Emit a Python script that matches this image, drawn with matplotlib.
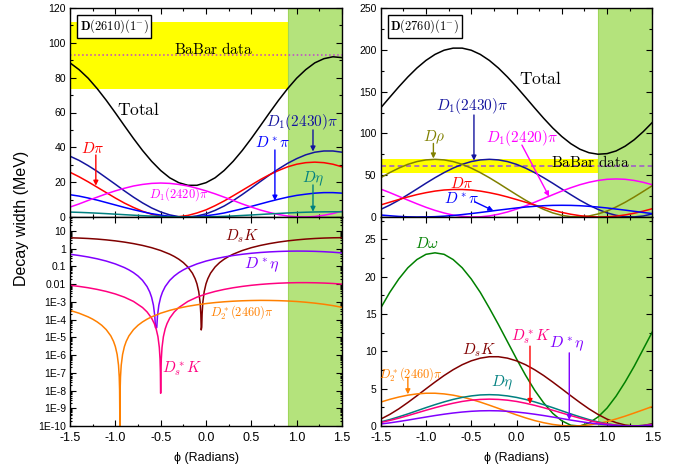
import matplotlib
matplotlib.use('Agg')
import matplotlib.pyplot as plt
from matplotlib.ticker import MultipleLocator, FixedLocator, FuncFormatter, LogLocator, NullFormatter

plt.rcParams['font.family'] = ['Liberation Sans', 'DejaVu Sans']
plt.rcParams['mathtext.fontset'] = 'cm'

# ---------------- data ----------------
phi = [-1.5, -1.4, -1.3, -1.2, -1.1, -1.0, -0.9, -0.8, -0.7, -0.6, -0.5, -0.4, -0.3, -0.2, -0.1,
       0.0, 0.1, 0.2, 0.3, 0.4, 0.5, 0.6, 0.7, 0.8, 0.9, 1.0, 1.1, 1.2, 1.3, 1.4, 1.5]

# D(2610)(1-) main channels
a_total = [88.5, 84.6, 79.7, 73.7, 67.0, 59.8, 52.4, 45.1, 38.2, 32.0, 26.7, 22.5, 19.7, 18.2, 18.2,
           19.7, 22.5, 26.7, 32.0, 38.2, 45.1, 52.4, 59.8, 67.0, 73.7, 79.7, 84.6, 88.5, 90.9, 92.0, 91.5]
a_d1_2430 = [34.9, 32.5, 29.5, 26.2, 22.5, 18.8, 15.0, 11.4, 8.1, 5.2, 2.9, 1.2, 0.2, 0.0, 0.6,
             1.8, 3.8, 6.3, 9.4, 12.9, 16.6, 20.4, 24.1, 27.6, 30.8, 33.5, 35.7, 37.2, 37.9, 37.9, 37.2]
a_dpi = [25.7, 23.1, 20.2, 17.1, 14.0, 10.9, 8.0, 5.5, 3.3, 1.6, 0.5, 0.0, 0.2, 0.9, 2.3,
         4.1, 6.5, 9.2, 12.2, 15.3, 18.4, 21.5, 24.3, 26.7, 28.8, 30.3, 31.2, 31.5, 31.2, 30.3, 28.8]
a_dstarpi = [12.8, 12.0, 10.9, 9.7, 8.3, 6.9, 5.5, 4.2, 3.0, 1.9, 1.1, 0.4, 0.1, 0.0, 0.2,
             0.7, 1.4, 2.3, 3.5, 4.7, 6.1, 7.5, 8.9, 10.2, 11.4, 12.4, 13.1, 13.7, 14.0, 14.0, 13.7]
a_d1_2420 = [5.7, 7.5, 9.5, 11.4, 13.3, 15.0, 16.5, 17.8, 18.7, 19.3, 19.5, 19.3, 18.7, 17.8, 16.5,
              15.0, 13.3, 11.4, 9.5, 7.5, 5.7, 4.0, 2.6, 1.4, 0.6, 0.1, 0.0, 0.3, 1.0, 2.0, 3.4]
a_deta = [2.83, 2.66, 2.45, 2.20, 1.93, 1.63, 1.33, 1.04, 0.76, 0.52, 0.31, 0.15, 0.05, 0.00, 0.02,
          0.09, 0.21, 0.39, 0.62, 0.88, 1.16, 1.46, 1.76, 2.04, 2.31, 2.55, 2.74, 2.88, 2.97, 3.00, 2.97]

# D(2610)(1-) small channels (log panel)
dsk_phi = [-1.5, -1.4, -1.3, -1.2, -1.1, -1.0, -0.9, -0.8, -0.7, -0.6, -0.5, -0.4, -0.35, -0.3, -0.25,
           -0.2, -0.15, -0.12, -0.1, -0.08, -0.065, -0.057, -0.0525, -0.047, -0.043, -0.035, -0.02,
           0.0, 0.02, 0.05, 0.1, 0.15, 0.2, 0.25, 0.3, 0.4, 0.5, 0.6, 0.7, 0.8, 0.9, 1.0, 1.1, 1.2,
           1.3, 1.4, 1.5]
dsk_val = [4.04, 3.90, 3.69, 3.42, 3.08, 2.71, 2.31, 1.90, 1.50, 1.12, 0.776, 0.482, 0.358, 0.251,
           0.162, 0.0914, 0.0409, 0.0200, 0.0103, 3.69e-3, 9.2e-4, 2.0e-4, 2.6e-5, 3.7e-5, 2.0e-4,
           9.2e-4, 3.69e-3, 0.0103, 0.0200, 0.0409, 0.0914, 0.162, 0.251, 0.358, 0.482, 0.776, 1.12,
           1.50, 1.90, 2.31, 2.71, 3.08, 3.42, 3.69, 3.90, 4.04, 4.10]
dseta_phi = [-1.5, -1.4, -1.3, -1.2, -1.1, -1.0, -0.9, -0.85, -0.8, -0.75, -0.7, -0.65, -0.62, -0.6,
             -0.58, -0.565, -0.557, -0.543, -0.535, -0.52, -0.5, -0.48, -0.45, -0.4, -0.35, -0.3,
             -0.25, -0.2, -0.1, 0.0, 0.1, 0.2, 0.3, 0.4, 0.5, 0.6, 0.7, 0.8, 0.9, 1.0, 1.1, 1.2, 1.3,
             1.4, 1.5]
dseta_val = [0.476, 0.406, 0.335, 0.264, 0.197, 0.136, 0.0847, 0.0629, 0.0441, 0.0284, 0.0161,
             0.00718, 0.00352, 0.0018, 6.5e-4, 1.62e-4, 3.5e-5, 3.5e-5, 1.62e-4, 6.5e-4, 0.0018,
             0.00352, 0.00718, 0.0161, 0.0284, 0.0441, 0.0629, 0.0847, 0.136, 0.197, 0.264, 0.335,
             0.406, 0.476, 0.542, 0.600, 0.648, 0.685, 0.710, 0.720, 0.715, 0.697, 0.665, 0.621, 0.567]
dssk_phi = [-1.5, -1.4, -1.3, -1.2, -1.1, -1.0, -0.9, -0.8, -0.7, -0.65, -0.6, -0.57, -0.55, -0.53,
            -0.515, -0.507, -0.503, -0.5008, -0.4992, -0.497, -0.493, -0.485, -0.47, -0.45, -0.43,
            -0.4, -0.35, -0.3, -0.2, -0.1, 0.0, 0.1, 0.2, 0.3, 0.4, 0.5, 0.6, 0.7, 0.8, 0.9, 1.0,
            1.1, 1.2, 1.3, 1.4, 1.5]
dssk_val = [8.50e-3, 7.36e-3, 6.18e-3, 4.98e-3, 3.83e-3, 2.76e-3, 1.82e-3, 1.05e-3, 4.74e-4, 2.68e-4,
            1.2e-4, 5.87e-5, 3.0e-5, 1.08e-5, 2.7e-6, 5.9e-7, 1.08e-7, 7e-9, 7e-9, 1.08e-7, 5.9e-7,
            2.7e-6, 1.08e-5, 3.0e-5, 5.87e-5, 1.2e-4, 2.68e-4, 4.74e-4, 1.05e-3, 1.82e-3, 2.76e-3,
            3.83e-3, 4.98e-3, 6.18e-3, 7.36e-3, 8.50e-3, 9.53e-3, 1.042e-2, 1.114e-2, 1.165e-2,
            1.194e-2, 1.199e-2, 1.180e-2, 1.138e-2, 1.075e-2, 9.92e-3]
d2pi_phi = [-1.5, -1.4, -1.3, -1.25, -1.2, -1.15, -1.1, -1.05, -1.02, -1.0, -0.98, -0.965, -0.957,
            -0.953, -0.9505, -0.9501, -0.9499, -0.9495, -0.947, -0.943, -0.935, -0.92, -0.9, -0.88,
            -0.85, -0.8, -0.75, -0.7, -0.65, -0.6, -0.5, -0.4, -0.3, -0.2, -0.1, 0.0, 0.1, 0.2, 0.3,
            0.4, 0.5, 0.6, 0.7, 0.8, 0.9, 1.0, 1.1, 1.2, 1.3, 1.4, 1.5]
d2pi_val = [3.28e-4, 2.27e-4, 1.41e-4, 1.05e-4, 7.34e-5, 4.74e-5, 2.68e-5, 1.2e-5, 5.87e-6, 3.0e-6,
            1.08e-6, 2.7e-7, 5.9e-8, 1.08e-8, 3e-10, 1.2e-11, 1.2e-11, 3e-10, 1.08e-8, 5.9e-8,
            2.7e-7, 1.08e-6, 3.0e-6, 5.87e-6, 1.2e-5, 2.68e-5, 4.74e-5, 7.34e-5, 1.05e-4, 1.41e-4,
            2.27e-4, 3.28e-4, 4.40e-4, 5.58e-4, 6.77e-4, 7.94e-4, 9.03e-4, 1.00e-3, 1.08e-3, 1.14e-3,
            1.18e-3, 1.20e-3, 1.19e-3, 1.16e-3, 1.11e-3, 1.04e-3, 9.45e-4, 8.40e-4, 7.26e-4,
            6.07e-4, 4.88e-4]

# D(2760)(1-) main channels
b_total = [130.5, 143.2, 155.7, 167.5, 178.2, 187.3, 194.5, 199.5, 202.0, 202.0, 199.5, 194.5, 187.3,
           178.2, 167.5, 155.7, 143.2, 130.5, 118.1, 106.5, 96.3, 87.7, 81.1, 76.9, 75.1, 75.8, 79.0,
           84.7, 92.4, 102.1, 113.1]
b_d1_2430 = [9.1, 14.2, 20.1, 26.7, 33.5, 40.4, 47.0, 53.1, 58.5, 63.0, 66.3, 68.3, 69.0, 68.3, 66.3,
             63.0, 58.5, 53.1, 47.0, 40.4, 33.5, 26.7, 20.1, 14.2, 9.1, 4.9, 2.0, 0.4, 0.1, 1.2, 3.6]
b_drho = [47.0, 53.1, 58.5, 63.0, 66.3, 68.3, 69.0, 68.3, 66.3, 63.0, 58.5, 53.1, 47.0, 40.4, 33.5,
          26.7, 20.1, 14.2, 9.1, 4.9, 2.0, 0.4, 0.1, 1.2, 3.6, 7.2, 12.0, 17.6, 23.9, 30.6, 37.5]
b_d1_2420 = [33.4, 29.2, 24.7, 20.2, 15.8, 11.6, 7.9, 4.8, 2.3, 0.8, 0.0, 0.2, 1.3, 3.3, 6.0,
             9.4, 13.3, 17.6, 22.1, 26.6, 31.0, 35.0, 38.6, 41.5, 43.7, 45.1, 45.5, 45.1, 43.7, 41.5, 38.6]
b_dpi = [14.4, 17.7, 20.9, 24.0, 26.8, 29.1, 31.0, 32.3, 32.9, 32.9, 32.3, 31.0, 29.1, 26.8, 24.0,
         20.9, 17.7, 14.4, 11.2, 8.2, 5.5, 3.3, 1.6, 0.5, 0.0, 0.2, 1.0, 2.5, 4.5, 7.0, 9.9]
b_dstarpi = [2.4, 1.5, 0.7, 0.2, 0.0, 0.1, 0.4, 1.0, 1.8, 2.9, 4.1, 5.4, 6.8, 8.2, 9.5,
             10.8, 11.9, 12.8, 13.5, 13.9, 14.0, 13.9, 13.5, 12.8, 11.9, 10.8, 9.5, 8.2, 6.8, 5.4, 4.1]

# D(2760)(1-) small channels
c_domega = [15.8, 17.9, 19.7, 21.2, 22.3, 23.0, 23.2, 23.0, 22.3, 21.2, 19.7, 17.9, 15.8, 13.6, 11.3,
            9.0, 6.8, 4.8, 3.1, 1.7, 0.7, 0.1, 0.0, 0.4, 1.2, 2.4, 4.0, 5.9, 8.0, 10.3, 12.6]
c_dsk = [0.92, 1.55, 2.30, 3.15, 4.05, 4.98, 5.89, 6.76, 7.54, 8.21, 8.73, 9.09, 9.28, 9.28, 9.09,
         8.73, 8.21, 7.54, 6.76, 5.89, 4.98, 4.05, 3.15, 2.30, 1.55, 0.92, 0.45, 0.13, 0.00, 0.06, 0.30]
c_d2pi = [3.20, 3.57, 3.88, 4.13, 4.30, 4.39, 4.39, 4.30, 4.13, 3.88, 3.57, 3.20, 2.79, 2.36, 1.92,
          1.49, 1.09, 0.73, 0.44, 0.21, 0.06, 0.00, 0.03, 0.14, 0.33, 0.60, 0.94, 1.32, 1.74, 2.17, 2.61]
c_deta = [0.55, 0.86, 1.23, 1.62, 2.04, 2.46, 2.86, 3.23, 3.56, 3.83, 4.03, 4.16, 4.20, 4.16, 4.03,
          3.83, 3.56, 3.23, 2.86, 2.46, 2.04, 1.62, 1.23, 0.86, 0.55, 0.30, 0.12, 0.02, 0.00, 0.07, 0.22]
c_dsstark = [0.47, 0.74, 1.05, 1.39, 1.75, 2.11, 2.45, 2.77, 3.05, 3.29, 3.46, 3.56, 3.60, 3.56, 3.46,
             3.29, 3.05, 2.77, 2.45, 2.11, 1.75, 1.39, 1.05, 0.74, 0.47, 0.26, 0.10, 0.02, 0.00, 0.06, 0.19]
c_dstareta = [0.27, 0.42, 0.60, 0.79, 1.00, 1.20, 1.40, 1.58, 1.74, 1.87, 1.97, 2.03, 2.05, 2.03, 1.97,
              1.87, 1.74, 1.58, 1.40, 1.20, 1.00, 0.79, 0.60, 0.42, 0.27, 0.15, 0.06, 0.01, 0.00, 0.03, 0.11]

babar_2610 = (93.0, 73.5, 112.0)
babar_2760 = (60.9, 52.2, 69.6)
green_band = (0.9, 1.5)

# ---------------- colours ----------------
NAVY = '#14149e'
BLUE = '#0000ff'
RED = '#ff0000'
MAG = '#ff00ff'
TEAL = '#008080'
OLIVE = '#808000'
MAROON = '#800000'
VIOLET = '#8000ff'
PINK = '#ff0080'
ORANGE = '#ff8000'
GREEN = '#008000'
BAND_G = '#b4e37c'
BAND_Y = '#ffff00'

W, H = 683, 475
fig = plt.figure(figsize=(W / 100, H / 100), dpi=100)


def ax_at(x0, y0, x1, y1):
    return fig.add_axes([x0 / W, 1 - y1 / H, (x1 - x0) / W, (y1 - y0) / H])


ax1 = ax_at(70, 8, 342, 217)
ax2 = ax_at(70, 217, 342, 426)
ax3 = ax_at(380.7, 8, 652.3, 217)
ax4 = ax_at(380.7, 217, 652.3, 426)

fmt_x = FuncFormatter(lambda v, p: f'{v:.1f}')


def style(ax, xlab):
    ax.set_xlim(-1.5, 1.5)
    ax.xaxis.set_major_locator(MultipleLocator(0.5))
    ax.xaxis.set_minor_locator(MultipleLocator(0.25))
    ax.xaxis.set_major_formatter(fmt_x)
    ax.tick_params(which='both', direction='in', top=True, right=True, width=0.8)
    ax.tick_params(which='major', length=4)
    ax.tick_params(which='minor', length=2)
    ax.tick_params(axis='x', labelsize=9, pad=4)
    ax.tick_params(axis='y', labelsize=7.5, pad=3)
    for s in ax.spines.values():
        s.set_linewidth(1.0)
    ax.axvspan(*green_band, facecolor=BAND_G, edgecolor='#9fd65a', lw=0.8, zorder=0.5)
    if xlab:
        ax.set_xlabel('ϕ (Radians)', fontsize=9, labelpad=6)
    else:
        ax.tick_params(axis='x', labelbottom=False)


LW = 1.1
arrow_kw = dict(arrowstyle='-|>', lw=1.0, mutation_scale=7, shrinkA=0, shrinkB=0)


def arrow(ax, tail, tip, color):
    ax.annotate('', xy=tip, xytext=tail, arrowprops=dict(color=color, **arrow_kw), zorder=4)


# ---------- top-left: D(2610) ----------
style(ax1, False)
ax1.set_ylim(0, 120)
ax1.yaxis.set_major_locator(MultipleLocator(20))
ax1.yaxis.set_minor_locator(MultipleLocator(10))
ax1.axhspan(babar_2610[1], babar_2610[2], color=BAND_Y, lw=0, zorder=0.3)
ax1.axhline(babar_2610[0], color='#c040d0', ls=':', lw=1.1, zorder=1)
ax1.plot(phi, a_total, color='black', lw=LW)
ax1.plot(phi, a_d1_2430, color=NAVY, lw=LW)
ax1.plot(phi, a_dpi, color=RED, lw=LW)
ax1.plot(phi, a_dstarpi, color=BLUE, lw=LW)
ax1.plot(phi, a_d1_2420, color=MAG, lw=LW)
ax1.plot(phi, a_deta, color=TEAL, lw=LW)
ax1.text(0.035, 0.955, r'$\mathbf{D(2610)(1^{-})}$', transform=ax1.transAxes, ha='left', va='top',
         fontsize=9, bbox=dict(boxstyle='square,pad=0.2', fc='white', ec='black', lw=1.0), zorder=5)
ax1.text(0.08, 96.5, r'$\mathrm{BaBar\ data}$', ha='center', va='center', fontsize=11)
ax1.text(-0.74, 62, r'$\mathrm{Total}$', ha='center', va='center', fontsize=12.5)
ax1.text(1.06, 54.3, r'$D_1(2430)\pi$', color=NAVY, ha='center', va='center', fontsize=11)
arrow(ax1, (1.18, 50), (1.18, 37.6), NAVY)
ax1.text(0.74, 42.5, r'$D^*\pi$', color=BLUE, ha='center', va='center', fontsize=11)
arrow(ax1, (0.76, 38.5), (0.76, 9.4), BLUE)
ax1.text(-1.25, 39.6, r'$D\pi$', color=RED, ha='center', va='center', fontsize=11)
arrow(ax1, (-1.215, 35.6), (-1.215, 18.0), RED)
ax1.text(-0.3, 13.0, r'$D_1(2420)\pi$', color=MAG, ha='center', va='center', fontsize=9)
ax1.text(1.185, 21.8, r'$D\eta$', color=TEAL, ha='center', va='center', fontsize=11)
arrow(ax1, (1.18, 18.4), (1.18, 3.0), TEAL)

# ---------- bottom-left: log ----------
style(ax2, True)
ax2.set_yscale('log')
ax2.set_ylim(1e-10, 60)
dec = [10.0 ** k for k in range(-10, 2)]
ax2.yaxis.set_major_locator(FixedLocator(dec))
ax2.yaxis.set_minor_locator(LogLocator(base=10, subs=[2, 3, 4, 5, 6, 7, 8, 9], numticks=100))
ax2.yaxis.set_minor_formatter(NullFormatter())


def logfmt(v, p):
    if v >= 10:
        return '10'
    if v >= 1:
        return '1'
    if v >= 0.1:
        return '0.1'
    if v >= 0.01:
        return '0.01'
    import math
    return '1E-%d' % round(-math.log10(v))


ax2.yaxis.set_major_formatter(FuncFormatter(logfmt))
ax2.tick_params(which='minor', length=1.5)
ax2.plot(dsk_phi, dsk_val, color=MAROON, lw=LW)
ax2.plot(dseta_phi, dseta_val, color=VIOLET, lw=LW)
ax2.plot(dssk_phi, dssk_val, color=PINK, lw=LW)
ax2.plot(d2pi_phi, d2pi_val, color=ORANGE, lw=LW)
ax2.text(0.397, 5.0, r'$D_sK$', color=MAROON, ha='center', va='center', fontsize=11)
ax2.text(0.617, 0.117, r'$D^*\eta$', color=VIOLET, ha='center', va='center', fontsize=11.5)
ax2.text(0.397, 2.6e-4, r'$D_2^*(2460)\pi$', color=ORANGE, ha='center', va='center', fontsize=9)
ax2.text(-0.265, 1.8e-7, r'$D_s^*K$', color=PINK, ha='center', va='center', fontsize=11)

# ---------- top-right: D(2760) ----------
style(ax3, False)
ax3.set_ylim(0, 250)
ax3.yaxis.set_major_locator(MultipleLocator(50))
ax3.yaxis.set_minor_locator(MultipleLocator(25))
ax3.axhspan(babar_2760[1], babar_2760[2], color=BAND_Y, lw=0, zorder=0.3)
ax3.axhline(babar_2760[0], color='#a060c8', ls=(0, (3, 2)), lw=1.2, zorder=1)
ax3.plot(phi, b_total, color='black', lw=LW)
ax3.plot(phi, b_d1_2430, color=NAVY, lw=LW)
ax3.plot(phi, b_drho, color=OLIVE, lw=LW)
ax3.plot(phi, b_d1_2420, color=MAG, lw=LW)
ax3.plot(phi, b_dpi, color=RED, lw=LW)
ax3.plot(phi, b_dstarpi, color=BLUE, lw=LW)
ax3.text(0.035, 0.955, r'$\mathbf{D(2760)(1^{-})}$', transform=ax3.transAxes, ha='left', va='top',
         fontsize=9, bbox=dict(boxstyle='square,pad=0.2', fc='white', ec='black', lw=1.0), zorder=5)
ax3.text(0.27, 165.7, r'$\mathrm{Total}$', ha='center', va='center', fontsize=12.5)
ax3.text(-0.495, 132.4, r'$D_1(2430)\pi$', color=NAVY, ha='center', va='center', fontsize=11)
arrow(ax3, (-0.47, 122), (-0.47, 67.5), NAVY)
ax3.text(-0.91, 95.5, r'$D\rho$', color=OLIVE, ha='center', va='center', fontsize=11)
arrow(ax3, (-0.918, 88), (-0.918, 70), OLIVE)
ax3.text(0.064, 94.3, r'$D_1(2420)\pi$', color=MAG, ha='center', va='center', fontsize=11)
arrow(ax3, (0.06, 86), (0.36, 24.5), MAG)
ax3.text(0.82, 66, r'$\mathrm{BaBar\ data}$', ha='center', va='center', fontsize=11)
ax3.text(-0.606, 40, r'$D\pi$', color=RED, ha='center', va='center', fontsize=11)
ax3.text(-0.606, 22, r'$D^*\pi$', color=BLUE, ha='center', va='center', fontsize=11)
arrow(ax3, (-0.458, 18), (-0.256, 7.6), BLUE)

# ---------- bottom-right ----------
style(ax4, True)
ax4.set_ylim(0, 28)
ax4.yaxis.set_major_locator(MultipleLocator(5))
ax4.yaxis.set_minor_locator(MultipleLocator(2.5))
ax4.plot(phi, c_domega, color=GREEN, lw=LW)
ax4.plot(phi, c_dsk, color=MAROON, lw=LW)
ax4.plot(phi, c_d2pi, color=ORANGE, lw=LW)
ax4.plot(phi, c_deta, color=TEAL, lw=LW)
ax4.plot(phi, c_dsstark, color=PINK, lw=LW)
ax4.plot(phi, c_dstareta, color=VIOLET, lw=LW)
ax4.text(-0.985, 24.5, r'$D\omega$', color=GREEN, ha='center', va='center', fontsize=11)
ax4.text(-0.41, 10.1, r'$D_sK$', color=MAROON, ha='center', va='center', fontsize=11)
ax4.text(0.156, 12.0, r'$D_s^*K$', color=PINK, ha='center', va='center', fontsize=11)
arrow(ax4, (0.149, 10.7), (0.149, 2.95), RED)
ax4.text(0.554, 10.9, r'$D^*\eta$', color=VIOLET, ha='center', va='center', fontsize=11.5)
arrow(ax4, (0.583, 9.8), (0.583, 0.8), VIOLET)
ax4.text(-1.161, 7.0, r'$D_2^*(2460)\pi$', color=ORANGE, ha='center', va='center', fontsize=9)
arrow(ax4, (-1.2, 6.4), (-1.2, 4.25), ORANGE)
ax4.text(-0.164, 5.8, r'$D\eta$', color=TEAL, ha='center', va='center', fontsize=11)

fig.text(22 / W, 1 - 218.5 / H, 'Decay width (MeV)', rotation=90, ha='center', va='center', fontsize=11.5)

fig.savefig('out.png', dpi=100)
